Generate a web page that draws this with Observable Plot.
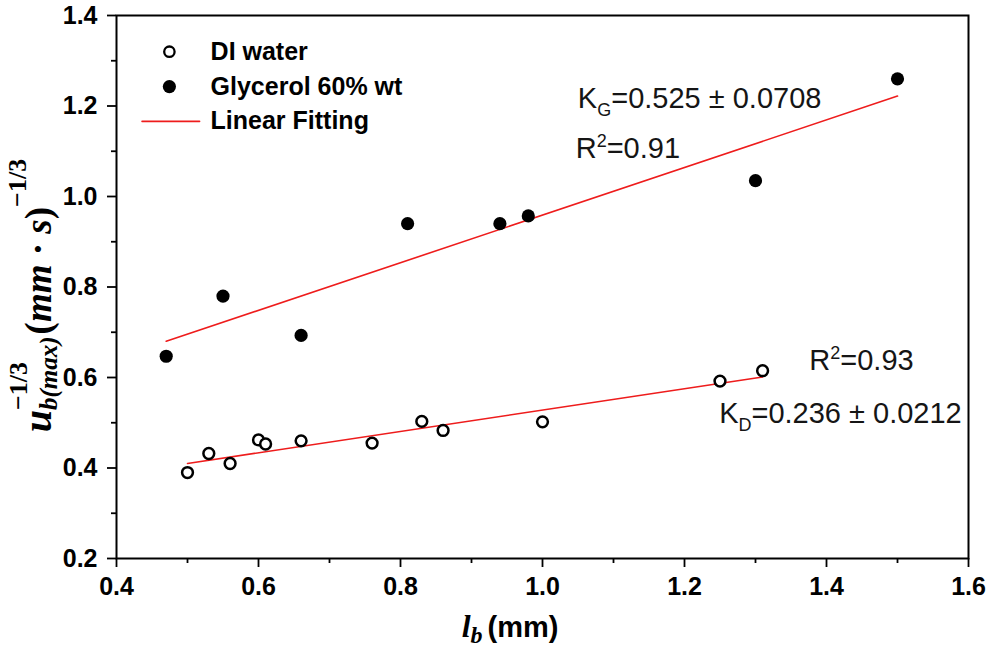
<!DOCTYPE html>
<html><head><meta charset="utf-8">
<script src="https://cdn.jsdelivr.net/npm/d3@7"></script>
<script src="https://cdn.jsdelivr.net/npm/@observablehq/plot@0.6"></script>
<style>
body{margin:0;background:#fff;}
#chart{position:relative;width:987px;height:654px;}
g[aria-label="x-axis tick label"], g[aria-label="y-axis tick label"]{
  font-family:"Liberation Sans Narrow","Liberation Sans",Arial,sans-serif;
  font-weight:bold; font-size:25px;
}
g[aria-label="text"]{font-family:"Liberation Sans",Arial,sans-serif;font-weight:bold;font-size:25px;}
</style></head>
<body><div id="chart"></div>
<script>
// ---- data ----
const waterX = [0.50, 0.53, 0.56, 0.60, 0.61, 0.66, 0.76, 0.83, 0.86, 1.00, 1.25, 1.31];
const waterY = [0.390, 0.432, 0.410, 0.462, 0.453, 0.460, 0.455, 0.503, 0.483, 0.502, 0.592, 0.615];
const glyX = [0.47, 0.55, 0.66, 0.81, 0.94, 0.98, 1.30, 1.50];
const glyY = [0.647, 0.780, 0.693, 0.940, 0.940, 0.957, 1.035, 1.260];
const waterFitX = [0.50, 1.31];
const waterFitY = [0.410, 0.601];
const glyFitX = [0.47, 1.50];
const glyFitY = [0.680, 1.222];
const xTicks = [0.4, 0.6, 0.8, 1.0, 1.2, 1.4, 1.6];
const xMinor = [0.5, 0.7, 0.9, 1.1, 1.3, 1.5];
const yTicks = [0.2, 0.4, 0.6, 0.8, 1.0, 1.2, 1.4];
const yMinor = [0.3, 0.5, 0.7, 0.9, 1.1, 1.3];
const legendLabels = ["DI water", "Glycerol 60% wt", "Linear Fitting"];
const legendY = [1.320, 1.243, 1.166];

const water = waterX.map((x, i) => ({x, y: waterY[i]}));
const gly = glyX.map((x, i) => ({x, y: glyY[i]}));
const waterFit = waterFitX.map((x, i) => ({x, y: waterFitY[i]}));
const glyFit = glyFitX.map((x, i) => ({x, y: glyFitY[i]}));
const RED = "#ee1c1c";

const plot = Plot.plot({
  width: 987, height: 654,
  marginLeft: 116, marginRight: 19, marginTop: 15, marginBottom: 96,
  x: {domain: [0.4, 1.6]},
  y: {domain: [0.2, 1.4]},
  style: {background: "#fff", color: "#000"},
  marks: [
    Plot.axisX({ticks: xMinor, text: null, tickSize: 5, strokeWidth: 1.8, label: null}),
    Plot.axisX({ticks: xTicks, tickFormat: d3.format(".1f"), tickSize: 9, strokeWidth: 1.8, tickPadding: 10, label: null}),
    Plot.axisY({ticks: yMinor, text: null, tickSize: 5, strokeWidth: 1.8, label: null}),
    Plot.axisY({ticks: yTicks, tickFormat: d3.format(".1f"), tickSize: 9, strokeWidth: 1.8, tickPadding: 10, label: null}),
    Plot.frame({stroke: "#000", strokeWidth: 2}),
    Plot.line(glyFit, {x: "x", y: "y", stroke: RED, strokeWidth: 1.6}),
    Plot.line(waterFit, {x: "x", y: "y", stroke: RED, strokeWidth: 1.6}),
    Plot.dot(water, {x: "x", y: "y", r: 5.4, stroke: "#000", strokeWidth: 2.5, fill: "#fff"}),
    Plot.dot(gly, {x: "x", y: "y", r: 6.6, fill: "#000", stroke: "none"}),
    // legend
    Plot.dot([{x: 0.4745, y: legendY[0]}], {x: "x", y: "y", r: 5.2, stroke: "#000", strokeWidth: 2.3, fill: "#fff"}),
    Plot.dot([{x: 0.4745, y: legendY[1]}], {x: "x", y: "y", r: 6.6, fill: "#000"}),
    Plot.line([{x: 0.436, y: legendY[2]}, {x: 0.517, y: legendY[2]}], {x: "x", y: "y", stroke: RED, strokeWidth: 1.6}),
    Plot.text(legendLabels, {
      x: () => 0.5325, y: (d, i) => legendY[i], text: d => d,
      textAnchor: "start", lineAnchor: "middle", fill: "#000"
    })
  ]
});
document.getElementById("chart").appendChild(plot);

const sx = plot.scale("x"), sy = plot.scale("y");
const svg = d3.select(plot);

// annotations with sub/superscripts
function annot(x, y, parts) {
  const t = svg.append("text")
    .attr("x", sx.apply(x)).attr("y", sy.apply(y))
    .attr("dy", "0.35em").attr("text-anchor", "start")
    .style("font-family", '"Liberation Sans",Arial,sans-serif')
    .style("font-size", "29px").style("font-weight", "normal").attr("fill", "#151515");
  parts.forEach(p => {
    const s = t.append("tspan").text(p.t);
    if (p.sub) s.style("font-size", "18px").attr("dy", 8);
    if (p.sup) s.style("font-size", "18px").attr("dy", -11);
    if (p.back) s.attr("dy", p.back);
  });
}
annot(1.0505, 1.2165, [{t: "K"}, {t: "G", sub: true}, {t: "=0.525 ± 0.0708", back: -8}]);
annot(1.0475, 1.1065, [{t: "R"}, {t: "2", sup: true}, {t: "=0.91", back: 11}]);
annot(1.3765, 0.6375, [{t: "R"}, {t: "2", sup: true}, {t: "=0.93", back: 11}]);
annot(1.2495, 0.5205, [{t: "K"}, {t: "D", sub: true}, {t: "=0.236 ± 0.0212", back: -8}]);

// x axis label
const serif = '"Liberation Serif","DejaVu Serif",serif';
const xl = svg.append("text")
  .attr("x", sx.apply(0.955)).attr("y", 637)
  .attr("text-anchor", "middle").attr("fill", "#000");
xl.append("tspan").text("l").style("font-family", serif).style("font-style", "italic").style("font-weight", "bold").style("font-size", "32px");
xl.append("tspan").text("b").style("font-family", serif).style("font-style", "italic").style("font-weight", "bold").style("font-size", "24px").attr("dy", 6);
xl.append("tspan").text("(mm)").attr("dx", 5).style("font-family", '"Liberation Sans",Arial,sans-serif').style("font-weight", "bold").style("font-size", "29px").attr("dy", -6);

// y axis label
const yl = svg.append("text")
  .attr("transform", `translate(51,${sy.apply(0.78)}) rotate(-90)`)
  .attr("text-anchor", "middle").attr("fill", "#000")
  .style("font-family", serif).style("font-weight", "bold");
yl.append("tspan").text("u").style("font-style", "italic").style("font-size", "40px");
const sup1 = yl.append("tspan").text("−1/3").style("font-size", "26px").attr("dy", -24);
const sub1 = yl.append("tspan").text("b(max)").style("font-style", "italic").style("font-size", "25px").attr("dy", 30);
const sup1w = sup1.node().getComputedTextLength();
sub1.attr("dx", -sup1w);
yl.append("tspan").text("(").style("font-size", "37px").attr("dy", -6).attr("dx", 2);
yl.append("tspan").text("mm").style("font-style", "italic").style("font-size", "37px");
yl.append("tspan").text(" · ").style("font-size", "37px");
yl.append("tspan").text("s").style("font-style", "italic").style("font-size", "37px");
yl.append("tspan").text(")").style("font-size", "37px");
yl.append("tspan").text("−1/3").style("font-size", "26px").attr("dy", -25);
</script>
</body></html>
